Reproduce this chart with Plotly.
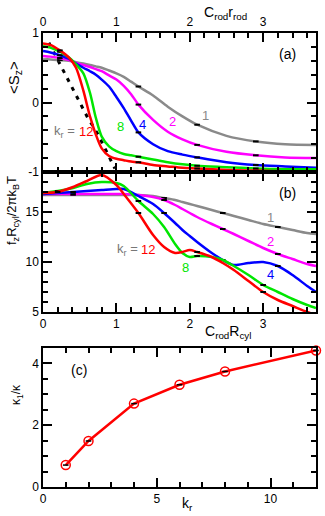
import plotly.graph_objects as go

# ---- panel (a): <S_z> vs C_rod r_rod ----
xa = [0, 0.1, 0.23, 0.35, 0.45, 0.55, 0.64, 0.72, 0.8, 0.9, 1.0, 1.1, 1.2, 1.3,
      1.5, 1.7, 1.9, 2.1, 2.5, 2.9, 3.3, 3.72]
sz_k1 = [0.62, 0.62, 0.61, 0.60, 0.58, 0.56, 0.54, 0.52, 0.50, 0.46, 0.42, 0.37, 0.30, 0.23,
         0.10, -0.06, -0.20, -0.32, -0.48, -0.56, -0.60, -0.61]
sz_k2 = [0.67, 0.66, 0.64, 0.61, 0.57, 0.54, 0.51, 0.48, 0.45, 0.39, 0.33, 0.24, 0.12, -0.03,
         -0.25, -0.42, -0.53, -0.61, -0.71, -0.76, -0.79, -0.80]
sz_k4 = [0.74, 0.72, 0.68, 0.63, 0.56, 0.50, 0.45, 0.40, 0.33, 0.23, 0.08, -0.08, -0.26, -0.43,
         -0.60, -0.70, -0.75, -0.79, -0.86, -0.90, -0.92, -0.94]
sz_k8 = [0.81, 0.79, 0.73, 0.65, 0.55, 0.42, 0.14, -0.22, -0.49, -0.63, -0.70, -0.74, -0.76, -0.78,
         -0.82, -0.86, -0.89, -0.91, -0.93, -0.95, -0.96, -0.96]
sz_k12 = [0.85, 0.83, 0.75, 0.65, 0.50, 0.17, -0.20, -0.46, -0.66, -0.77, -0.81, -0.83, -0.85, -0.86,
          -0.90, -0.92, -0.94, -0.95, -0.97, -0.98, -0.99, -0.99]
ticks_a = [0.23, 1.3, 2.1, 2.9]

# black dashed reference line in (a)
x_dash = [0.08, 0.25, 0.41, 0.6, 0.75, 0.98]
y_dash = [0.86, 0.52, 0.19, -0.2, -0.46, -0.95]

# ---- panel (b): f_z R_cyl / 2 pi k_B T vs C_rod R_cyl ----
xb = [0, 0.2, 0.41, 0.6, 0.8, 1.0, 1.1, 1.3, 1.5, 1.65, 1.8, 1.9, 2.0, 2.1, 2.3, 2.45,
      2.6, 2.8, 3.0, 3.2, 3.4, 3.6, 3.72]
f_k1 = [16.7, 16.7, 16.7, 16.7, 16.7, 16.7, 16.7, 16.7, 16.6, 16.4, 16.2, 16.0, 15.8, 15.6,
        15.2, 14.9, 14.6, 14.2, 13.8, 13.5, 13.2, 12.9, 12.8]
f_k2 = [16.8, 16.8, 16.8, 16.8, 16.8, 16.8, 16.8, 16.7, 16.5, 16.2, 15.7, 15.3, 14.9, 14.5,
        13.8, 13.3, 12.8, 12.1, 11.4, 10.8, 10.3, 9.8, 9.6]
f_k4 = [16.8, 16.9, 17.0, 17.1, 17.2, 17.3, 17.3, 16.6, 15.8, 14.9, 13.9, 13.2, 12.6, 12.0,
        10.9, 10.2, 9.7, 9.9, 10.0, 9.6, 8.7, 7.6, 7.0]
f_k8 = [16.9, 17.1, 17.4, 17.8, 18.0, 17.9, 17.6, 16.1, 14.8, 13.5, 11.8, 10.9, 10.5, 10.6,
        10.5, 10.2, 9.6, 8.7, 7.7, 7.0, 6.3, 5.7, 5.4]
f_k12 = [16.9, 17.0, 17.5, 18.1, 18.7, 17.7, 16.8, 14.9, 12.7, 11.5, 10.9, 11.0, 11.2, 11.0,
         10.5, 9.9, 9.2, 8.1, 7.0, 6.2, 5.6, 5.0, 4.7]
ticks_b_low = [0.2, 1.3, 2.1, 3.0]      # kr = 8, 12
ticks_b_high = [0.41, 1.65, 2.45, 3.2]  # kr = 1, 2, 4

# ---- panel (c): kappa_1/kappa vs k_r ----
kr_c = [1, 2, 4, 6, 8, 12]
kappa_ratio = [0.71, 1.49, 2.70, 3.31, 3.74, 4.42]

kr_list = [1, 2, 4, 8, 12]
colors = {1: '#8a8a8a', 2: '#ff00ff', 4: '#0000ff', 8: '#00e600', 12: '#ff0000'}
sz = {1: sz_k1, 2: sz_k2, 4: sz_k4, 8: sz_k8, 12: sz_k12}
fz = {1: f_k1, 2: f_k2, 4: f_k4, 8: f_k8, 12: f_k12}

FONT = 'Liberation Sans'
W, H = 325, 516


def px_x(p):
    return p / W


def px_y(p):
    return (H - p) / H


fig = go.Figure()

fig.add_trace(go.Scatter(x=x_dash, y=y_dash, mode='lines', xaxis='x', yaxis='y',
                         line=dict(color='black', width=3, dash='4px,6px')))

for k in kr_list:
    fig.add_trace(go.Scatter(x=xa, y=sz[k], mode='lines', xaxis='x', yaxis='y',
                             line=dict(color=colors[k], width=2.5, shape='spline', smoothing=0.8)))
    sel = [i for i, v in enumerate(xa) if v in ticks_a]
    fig.add_trace(go.Scatter(x=[xa[i] for i in sel], y=[sz[k][i] for i in sel], mode='markers',
                             xaxis='x', yaxis='y',
                             marker=dict(symbol='line-ew', size=4, line=dict(color='black', width=2))))

for k in kr_list:
    fig.add_trace(go.Scatter(x=xb, y=fz[k], mode='lines', xaxis='x2', yaxis='y2',
                             line=dict(color=colors[k], width=2.5, shape='spline', smoothing=0.8)))
    tx = ticks_b_low if k >= 8 else ticks_b_high
    sel = [i for i, v in enumerate(xb) if v in tx]
    fig.add_trace(go.Scatter(x=[xb[i] for i in sel], y=[fz[k][i] for i in sel], mode='markers',
                             xaxis='x2', yaxis='y2',
                             marker=dict(symbol='line-ew', size=4, line=dict(color='black', width=2))))

fig.add_trace(go.Scatter(x=kr_c, y=kappa_ratio, mode='lines+markers', xaxis='x3', yaxis='y3',
                         cliponaxis=False,
                         line=dict(color='#ff0000', width=2.5),
                         marker=dict(symbol='circle-open', size=9, color='#ff0000',
                                     line=dict(width=1.5))))
fig.add_trace(go.Scatter(x=kr_c, y=kappa_ratio, mode='markers', xaxis='x3', yaxis='y3',
                         cliponaxis=False,
                         marker=dict(symbol='line-ew', size=4, line=dict(color='black', width=1.5))))


def axis(**kw):
    d = dict(showline=True, linecolor='black', linewidth=1.5, mirror='allticks',
             ticks='inside', ticklen=9, tickwidth=1.5, tickcolor='black',
             showgrid=False, zeroline=False, automargin=False,
             tickfont=dict(family=FONT, size=12, color='black'))
    d.update(kw)
    return d


def minor(step):
    return dict(ticks='inside', ticklen=5, tickwidth=1.5, dtick=step, tickcolor='black')


xdom = [px_x(43), px_x(316)]
fig.update_layout(
    width=W, height=H,
    margin=dict(l=0, r=0, t=0, b=0),
    paper_bgcolor='white', plot_bgcolor='white',
    showlegend=False,
    xaxis=axis(domain=xdom, anchor='y', side='top', range=[0, 3.72],
               tickvals=[0, 1, 2, 3], minor=minor(0.2)),
    yaxis=axis(domain=[px_y(172), px_y(33)], anchor='x', range=[-1, 1],
               tickvals=[-1, 0, 1], ticktext=['-1', '0', '1'], minor=minor(0.2)),
    xaxis2=axis(domain=xdom, anchor='y2', range=[0, 3.72],
                tickvals=[0, 1, 2, 3], minor=minor(0.2)),
    yaxis2=axis(domain=[px_y(312), px_y(172)], anchor='x2', range=[5, 19],
                tickvals=[5, 10, 15], minor=minor(1)),
    xaxis3=axis(domain=xdom, anchor='y3', range=[0, 12],
                tickvals=[0, 5, 10], minor=minor(1)),
    yaxis3=axis(domain=[px_y(487), px_y(348)], anchor='x3', range=[0, 4.5],
                tickvals=[0, 2, 4], minor=minor(0.5)),
)


def note(text, x, y, xref='paper', yref='paper', size=13, color='black', angle=0):
    fig.add_annotation(text=text, x=x, y=y, xref=xref, yref=yref, showarrow=False,
                       textangle=angle, font=dict(family=FONT, size=size, color=color),
                       xanchor='center', yanchor='middle')


# axis titles
note('C<sub>rod</sub>r<sub>rod</sub>', px_x(225), px_y(13), size=14)
note('&lt;S<sub>z</sub>&gt;', px_x(14), px_y(78), size=15, angle=-90)
note('f<sub>z</sub>R<sub>cyl</sub>/2πk<sub>B</sub>T', px_x(13), px_y(211), size=13, angle=-90)
note('C<sub>rod</sub>R<sub>cyl</sub>', px_x(228), px_y(332), size=14)
note('κ<sub>1</sub>/κ', px_x(17), px_y(395), size=12, angle=-90)
note('k<sub>r</sub>', px_x(187), px_y(504), size=14)

# panel labels
note('(a)', px_x(287), px_y(54), size=14)
note('(b)', px_x(287), px_y(193), size=14)
note('(c)', px_x(79), px_y(370), size=14)

# curve labels (a)
note('1', 2.21, -0.19, 'x', 'y', color=colors[1])
note('2', 1.76, -0.27, 'x', 'y', color=colors[2])
note('4', 1.35, -0.32, 'x', 'y', color=colors[4])
note('8', 1.05, -0.34, 'x', 'y', color=colors[8])
note('k<sub>r</sub> =', 0.29, -0.42, 'x', 'y', color='#777777')
note('12', 0.59, -0.42, 'x', 'y', color=colors[12])

# curve labels (b)
note('1', 3.1, 14.5, 'x2', 'y2', color=colors[1])
note('2', 3.1, 12.1, 'x2', 'y2', color=colors[2])
note('4', 3.1, 8.8, 'x2', 'y2', color=colors[4])
note('8', 1.94, 9.5, 'x2', 'y2', color=colors[8])
note('k<sub>r</sub> =', 1.15, 11.3, 'x2', 'y2', color='#777777')
note('12', 1.43, 11.3, 'x2', 'y2', color=colors[12])

# the page body has a default 8px margin; drop it so the figure sits at the window corner
fig.write_html('out.html', config={'displayModeBar': False},
               post_script="document.body.style.margin='0px';")
